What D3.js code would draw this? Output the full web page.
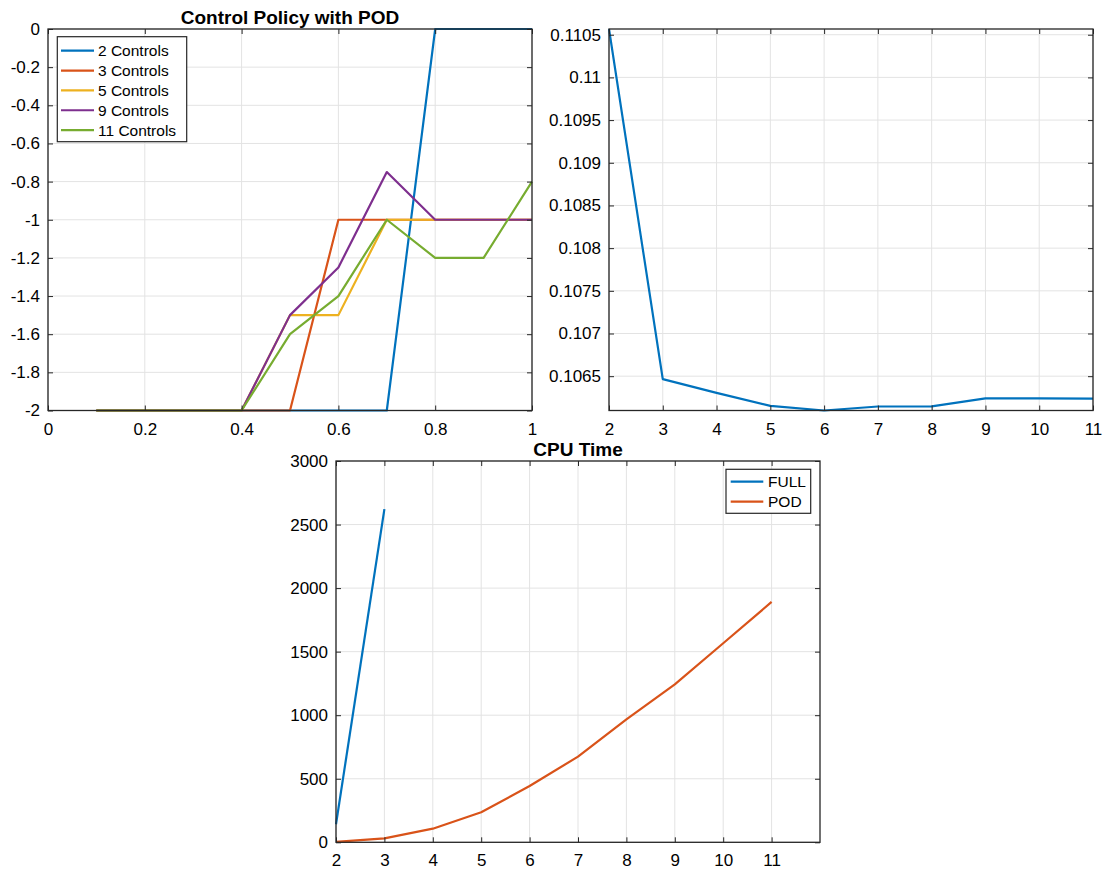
<!DOCTYPE html>
<html>
<head>
<meta charset="utf-8">
<script src="https://cdn.jsdelivr.net/npm/d3@7"></script>
<style>
  html, body { margin: 0; padding: 0; background: #fff; }
  svg { display: block; font-family: "Liberation Sans", Arial, Helvetica, sans-serif; }
</style>
</head>
<body>
<svg id="fig" width="1112" height="872"></svg>
<script>
// ---- Control policy with POD (step values at each time sample) ----
const policyTimes = [0.1, 0.2, 0.3, 0.4, 0.5, 0.6, 0.7, 0.8, 0.9, 1.0];
const controls2  = [-2, -2, -2, -2, -2, -2, -2, 0, 0, 0];
const controls3  = [-2, -2, -2, -2, -2, -1, -1, -1, -1, -1];
const controls5  = [-2, -2, -2, -2, -1.5, -1.5, -1, -1, -1, -1];
const controls9  = [-2, -2, -2, -2, -1.5, -1.25, -0.75, -1, -1, -1];
const controls11 = [-2, -2, -2, -2, -1.6, -1.4, -1, -1.2, -1.2, -0.8];
const policyNames = ["2 Controls", "3 Controls", "5 Controls", "9 Controls", "11 Controls"];
const policyXTicks = [0, 0.2, 0.4, 0.6, 0.8, 1];
const policyXTickLabels = ["0", "0.2", "0.4", "0.6", "0.8", "1"];
const policyYTicks = [0, -0.2, -0.4, -0.6, -0.8, -1, -1.2, -1.4, -1.6, -1.8, -2];
const policyYTickLabels = ["0", "-0.2", "-0.4", "-0.6", "-0.8", "-1", "-1.2", "-1.4", "-1.6", "-1.8", "-2"];

// ---- Cost versus number of controls ----
const costControls = [2, 3, 4, 5, 6, 7, 8, 9, 10, 11];
const costValues = [0.110567, 0.106465, 0.106304, 0.106152, 0.106098, 0.106145, 0.106147, 0.106239, 0.106239, 0.106238];
const costXTicks = [2, 3, 4, 5, 6, 7, 8, 9, 10, 11];
const costYTicks = [0.1065, 0.107, 0.1075, 0.108, 0.1085, 0.109, 0.1095, 0.11, 0.1105];
const costYTickLabels = ["0.1065", "0.107", "0.1075", "0.108", "0.1085", "0.109", "0.1095", "0.11", "0.1105"];

// ---- CPU time ----
const fullControls = [2, 3];
const fullTimes = [142, 2622];
const podControls = [2, 3, 4, 5, 6, 7, 8, 9, 10, 11];
const podTimes = [4, 31, 107, 236, 443, 674, 968, 1243, 1566, 1891];
const cpuNames = ["FULL", "POD"];
const cpuXTicks = [2, 3, 4, 5, 6, 7, 8, 9, 10, 11];
const cpuYTicks = [0, 500, 1000, 1500, 2000, 2500, 3000];

const palette = ["#0072BD", "#D95319", "#EDB120", "#7E2F8E", "#77AC30"];
const AXIS = "#262626";
const GRID = "#e3e3e3";
const TICK_FONT = 17;
const TITLE_FONT = 19;
const LEGEND_FONT = 15.5;
const TICK_LEN = 5;
const LINE_W = 2.2;

const svg = d3.select("#fig");

// Builds one axes panel: grid, lines, box with inward ticks, labels, title.
function panel(opts) {
  const { left, top, width, height, xDomain, yDomain, xTicks, yTicks,
          xLabels, yLabels, series, title } = opts;
  const x = d3.scaleLinear().domain(xDomain).range([0, width]);
  const y = d3.scaleLinear().domain(yDomain).range([height, 0]);
  const g = svg.append("g").attr("transform", `translate(${left},${top})`);

  // grid
  g.append("g").selectAll("line").data(xTicks).join("line")
    .attr("x1", d => x(d)).attr("x2", d => x(d))
    .attr("y1", 0).attr("y2", height)
    .attr("stroke", GRID).attr("stroke-width", 1);
  g.append("g").selectAll("line").data(yTicks).join("line")
    .attr("x1", 0).attr("x2", width)
    .attr("y1", d => y(d)).attr("y2", d => y(d))
    .attr("stroke", GRID).attr("stroke-width", 1);

  // data lines
  const clipId = "clip" + Math.round(left) + "_" + Math.round(top);
  g.append("clipPath").attr("id", clipId).append("rect")
    .attr("x", -1).attr("y", -1.5).attr("width", width + 2).attr("height", height + 3);
  const line = d3.line().x(d => x(d[0])).y(d => y(d[1]));
  g.append("g").attr("clip-path", `url(#${clipId})`)
    .selectAll("path").data(series).join("path")
    .attr("d", s => line(d3.zip(s.xs, s.ys)))
    .attr("fill", "none")
    .attr("stroke", s => s.color)
    .attr("stroke-width", LINE_W)
    .attr("stroke-linejoin", "round");

  // axes with inward ticks, mirrored on top and right
  const fmtX = xLabels ? (d, i) => xLabels[i] : d => String(d);
  const fmtY = yLabels ? (d, i) => yLabels[i] : d => String(d);
  const styleAxis = sel => {
    sel.select(".domain").remove();
    sel.selectAll(".tick line").attr("stroke", AXIS).attr("stroke-width", 1);
    sel.selectAll(".tick text").attr("fill", "#000").attr("font-size", TICK_FONT)
      .attr("font-family", null);
  };
  g.append("g").attr("transform", `translate(0,${height})`)
    .call(d3.axisBottom(x).tickValues(xTicks).tickFormat(fmtX)
      .tickSizeInner(-TICK_LEN).tickSizeOuter(0).tickPadding(12))
    .call(styleAxis);
  g.append("g")
    .call(d3.axisTop(x).tickValues(xTicks).tickFormat("")
      .tickSizeInner(-TICK_LEN).tickSizeOuter(0))
    .call(styleAxis);
  g.append("g")
    .call(d3.axisLeft(y).tickValues(yTicks).tickFormat(fmtY)
      .tickSizeInner(-TICK_LEN).tickSizeOuter(0).tickPadding(8))
    .call(styleAxis);
  g.append("g").attr("transform", `translate(${width},0)`)
    .call(d3.axisRight(y).tickValues(yTicks).tickFormat("")
      .tickSizeInner(-TICK_LEN).tickSizeOuter(0))
    .call(styleAxis);

  g.append("rect").attr("x", 0).attr("y", 0)
    .attr("width", width).attr("height", height)
    .attr("fill", "none").attr("stroke", AXIS).attr("stroke-width", 1.3);

  if (title) {
    g.append("text").attr("x", width / 2).attr("y", -5)
      .attr("text-anchor", "middle").attr("font-size", TITLE_FONT)
      .attr("font-weight", "bold").attr("fill", "#000").text(title);
  }
  return g;
}

// Legend box with short line samples (offsets relative to the axes corner)
function legend(g, box, entries) {
  const lg = g.append("g").attr("transform", `translate(${box.x},${box.y})`);
  lg.append("rect").attr("width", box.w).attr("height", box.h)
    .attr("fill", "#fff").attr("stroke", AXIS).attr("stroke-width", 1.2);
  const rows = lg.selectAll("g.row").data(entries).join("g")
    .attr("class", "row")
    .attr("transform", (d, i) => `translate(0,${box.first + i * box.step})`);
  rows.append("line").attr("x1", box.lx1).attr("x2", box.lx2)
    .attr("stroke", d => d.color).attr("stroke-width", LINE_W);
  rows.append("text").attr("x", box.tx).attr("dy", "0.36em")
    .attr("font-size", LEGEND_FONT).attr("fill", "#000").text(d => d.name);
}

// Top-left: control policy
const policySeries = [controls2, controls3, controls5, controls9, controls11]
  .map((ys, i) => ({ xs: policyTimes, ys, color: palette[i], name: policyNames[i] }));
const gPolicy = panel({
  left: 48, top: 29, width: 484, height: 381.5,
  xDomain: [0, 1], yDomain: [-2, 0],
  xTicks: policyXTicks, yTicks: policyYTicks,
  xLabels: policyXTickLabels, yLabels: policyYTickLabels,
  series: policySeries, title: "Control Policy with POD"
});
legend(gPolicy, { x: 9.3, y: 7.7, w: 129.4, h: 105, first: 14, step: 19.85,
                  lx1: 3.7, lx2: 36.7, tx: 40.7 }, policySeries);

// Top-right: cost
panel({
  left: 609, top: 29, width: 484, height: 381.5,
  xDomain: [2, 11], yDomain: [d3.min(costValues), d3.max(costValues)],
  xTicks: costXTicks, yTicks: costYTicks, yLabels: costYTickLabels,
  series: [{ xs: costControls, ys: costValues, color: palette[0] }]
});

// Bottom: CPU time
const cpuSeries = [
  { xs: fullControls, ys: fullTimes, color: palette[0], name: cpuNames[0] },
  { xs: podControls, ys: podTimes, color: palette[1], name: cpuNames[1] }
];
const gCpu = panel({
  left: 336, top: 461, width: 484, height: 381.3,
  xDomain: [2, 12], yDomain: [0, 3000],
  xTicks: cpuXTicks, yTicks: cpuYTicks,
  series: cpuSeries, title: "CPU Time"
});
legend(gCpu, { x: 390, y: 8.3, w: 84.7, h: 44, first: 12.4, step: 20,
               lx1: 4.7, lx2: 37.3, tx: 42 }, cpuSeries);
</script>
</body>
</html>
